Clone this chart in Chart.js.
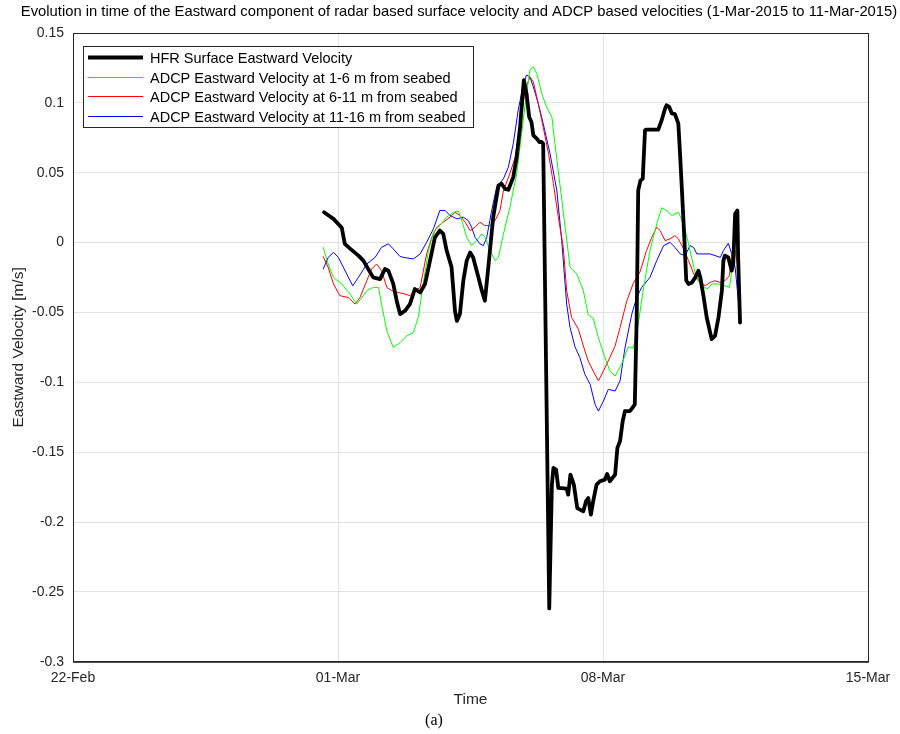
<!DOCTYPE html>
<html>
<head>
<meta charset="utf-8">
<script src="https://cdn.jsdelivr.net/npm/chart.js@4.4.1/dist/chart.umd.min.js"></script>
<style>
  html, body { margin: 0; padding: 0; background: #fff; }
  #wrap { width: 900px; height: 734px; }
</style>
</head>
<body>
<div id="wrap"><canvas id="myChart" width="900" height="734"></canvas></div>
<script>
// time axis: days since 22-Feb-2015 00:00
const tickDays = [0, 7, 14, 21];
const tickLabels = ["22-Feb", "01-Mar", "08-Mar", "15-Mar"];

// HFR surface eastward velocity
const hfrDays = [6.63, 6.88, 7.10, 7.18, 7.32, 7.54, 7.67, 7.85, 7.93, 8.11, 8.24, 8.33, 8.46, 8.55, 8.64, 8.77, 8.90, 9.03, 9.17, 9.30,
  9.43, 9.56, 9.69, 9.78, 9.87, 10.00, 10.09, 10.14, 10.22, 10.31, 10.40, 10.49, 10.57, 10.71, 10.80, 10.88, 10.97, 11.10, 11.24, 11.32,
  11.41, 11.50, 11.63, 11.72, 11.81, 11.88, 11.91, 11.98, 12.05, 12.11, 12.16, 12.25, 12.32, 12.38, 12.42, 12.58, 12.65, 12.69, 12.76, 12.82,
  13.04, 13.08, 13.14, 13.23, 13.32, 13.48, 13.55, 13.61, 13.68, 13.74, 13.83, 13.92, 14.05, 14.11, 14.18, 14.32, 14.38, 14.45, 14.52, 14.58,
  14.71, 14.78, 14.84, 14.89, 14.93, 14.99, 15.05, 15.11, 15.15, 15.46, 15.55, 15.64, 15.68, 15.75, 15.82, 15.90, 15.99, 16.04, 16.13, 16.20,
  16.26, 16.35, 16.44, 16.52, 16.57, 16.66, 16.74, 16.87, 16.96, 17.05, 17.14, 17.18, 17.22, 17.31, 17.40, 17.44, 17.49, 17.55, 17.57, 17.62];
const hfrVel = [0.0217, 0.017, 0.0106, -0.0009, -0.0043, -0.0093, -0.0129, -0.0213, -0.0249, -0.0261, -0.0189, -0.0201, -0.0296, -0.0416, -0.0512, -0.0488, -0.044, -0.0332, -0.0357, -0.0296,
  -0.0129, 0.0038, 0.0086, 0.0062, -0.0057, -0.0177, -0.0488, -0.056, -0.0512, -0.0273, -0.0129, -0.007, -0.0106, -0.0249, -0.0344, -0.0416, -0.0177, 0.0182, 0.0409, 0.0421,
  0.0385, 0.0378, 0.0469, 0.0612, 0.0828, 0.1067, 0.1163, 0.1067, 0.0899, 0.0863, 0.0768, 0.0744, 0.072, 0.072, 0.0708, -0.2618, -0.1732, -0.1613, -0.1624, -0.1756,
  -0.1761, -0.1804, -0.166, -0.1732, -0.19, -0.1923, -0.1852, -0.1828, -0.1947, -0.1852, -0.1732, -0.1708, -0.1696, -0.1656, -0.1708, -0.166, -0.1469, -0.1421, -0.1278, -0.1206,
  -0.1206, -0.1182, -0.1158, -0.0536, 0.0373, 0.0445, 0.0457, 0.0804, 0.0809, 0.0809, 0.0876, 0.096, 0.0983, 0.0971, 0.0924, 0.0919, 0.0852, 0.0612, 0.0134, -0.0273,
  -0.0296, -0.0285, -0.0249, -0.0201, -0.0249, -0.0393, -0.0536, -0.0691, -0.0667, -0.0536, -0.0344, -0.0129, -0.0093, -0.0106, -0.0201, -0.0153, 0.0206, 0.023, -0.0106, -0.0572];

// ADCP 1-6 m from seabed
const adcpLowDays = [6.61, 6.74, 6.88, 7.10, 7.32, 7.49, 7.63, 7.76, 7.93, 8.07, 8.15, 8.29, 8.46, 8.64, 8.82, 8.99, 9.12, 9.25, 9.39, 9.52,
  9.69, 9.87, 10.05, 10.18, 10.27, 10.40, 10.53, 10.66, 10.80, 10.88, 11.02, 11.15, 11.24, 11.37, 11.54, 11.72, 11.85, 11.98, 12.07, 12.16,
  12.25, 12.38, 12.51, 12.65, 12.73, 12.86, 13.00, 13.13, 13.31, 13.48, 13.61, 13.74, 13.88, 14.01, 14.18, 14.32, 14.49, 14.67, 14.80, 14.93,
  15.06, 15.24, 15.42, 15.55, 15.68, 15.82, 15.99, 16.13, 16.26, 16.40, 16.48, 16.62, 16.75, 16.88, 17.05, 17.22, 17.34, 17.38, 17.43, 17.49, 17.58, 17.62];
const adcpLowVel = [-0.0034, -0.0153, -0.0249, -0.0296, -0.0368, -0.044, -0.0393, -0.0344, -0.0321, -0.0321, -0.044, -0.0632, -0.0751, -0.0716, -0.0667, -0.0644, -0.0536, -0.0296, -0.0057, 0.0074,
  0.0122, 0.0182, 0.0217, 0.0225, 0.0158, 0.0038, -0.0022, 0.0014, 0.0062, 0.0038, -0.0057, -0.0129, -0.0106, 0.0062, 0.0253, 0.0493, 0.078, 0.1067, 0.1234, 0.1258,
  0.1211, 0.1067, 0.0971, 0.0899, 0.0708, 0.0421, 0.011, -0.0177, -0.0225, -0.0344, -0.0517, -0.0542, -0.0682, -0.079, -0.0919, -0.0955, -0.0871, -0.0745, -0.0757, -0.0584,
  -0.0344, -0.0057, 0.0134, 0.0249, 0.023, 0.0194, 0.0217, 0.0134, -0.0009, -0.0177, -0.0261, -0.0309, -0.0332, -0.0296, -0.0296, -0.0309, -0.0321, -0.0249, -0.0081, -0.0057, -0.0129, -0.0153];

// ADCP 6-11 m from seabed
const adcpMidDays = [6.61, 6.74, 6.88, 7.05, 7.27, 7.45, 7.58, 7.76, 7.89, 8.02, 8.15, 8.29, 8.42, 8.59, 8.77, 8.90, 9.03, 9.17, 9.34, 9.48,
  9.61, 9.78, 9.96, 10.09, 10.22, 10.36, 10.49, 10.62, 10.75, 10.88, 11.02, 11.15, 11.28, 11.37, 11.54, 11.68, 11.81, 11.94, 12.07, 12.16,
  12.29, 12.42, 12.56, 12.69, 12.82, 12.95, 13.04, 13.17, 13.35, 13.48, 13.61, 13.74, 13.88, 14.01, 14.18, 14.32, 14.45, 14.63, 14.80, 14.98,
  15.15, 15.29, 15.42, 15.51, 15.64, 15.77, 15.90, 15.99, 16.13, 16.26, 16.40, 16.57, 16.70, 16.83, 16.96, 17.10, 17.22, 17.34, 17.43, 17.49, 17.55, 17.62];
const adcpMidVel = [-0.01, -0.0177, -0.0296, -0.038, -0.0393, -0.044, -0.0393, -0.0273, -0.0189, -0.0153, -0.0201, -0.0321, -0.0344, -0.0357, -0.0368, -0.038, -0.0344, -0.0321, -0.0081, 0.0038,
  0.011, 0.0146, 0.0182, 0.0217, 0.0194, 0.0146, 0.0086, 0.011, 0.0146, 0.0122, 0.0122, 0.0158, 0.023, 0.0373, 0.0493, 0.0612, 0.0828, 0.1091, 0.1186, 0.115,
  0.0995, 0.0828, 0.0637, 0.0421, 0.0182, -0.0034, -0.0344, -0.0536, -0.062, -0.0739, -0.0847, -0.0919, -0.099, -0.0919, -0.0823, -0.0739, -0.0608, -0.0416, -0.0291, -0.0208,
  -0.0057, 0.0038, 0.011, 0.0086, 0.0014, 0.0027, 0.005, 0.0027, -0.0045, -0.0129, -0.0225, -0.0285, -0.0309, -0.0285, -0.0273, -0.0285, -0.0273, -0.0237, -0.0034, -0.0057, -0.0153, -0.044];

// ADCP 11-16 m from seabed
const adcpHighDays = [6.61, 6.74, 6.88, 7.01, 7.23, 7.39, 7.54, 7.76, 7.98, 8.15, 8.33, 8.46, 8.64, 8.82, 8.99, 9.17, 9.34, 9.52, 9.69, 9.83,
  9.96, 10.14, 10.31, 10.44, 10.53, 10.62, 10.75, 10.84, 10.93, 11.06, 11.19, 11.37, 11.50, 11.63, 11.76, 11.90, 11.98, 12.07, 12.16, 12.29,
  12.42, 12.60, 12.78, 12.91, 13.04, 13.13, 13.26, 13.39, 13.52, 13.66, 13.79, 13.88, 14.01, 14.14, 14.32, 14.45, 14.58, 14.76, 14.89, 15.02,
  15.24, 15.42, 15.60, 15.77, 15.90, 16.04, 16.17, 16.30, 16.39, 16.48, 16.66, 16.83, 17.10, 17.18, 17.31, 17.40, 17.49, 17.55, 17.62];
const adcpHighVel = [-0.0189, -0.0106, -0.007, -0.0106, -0.0225, -0.0309, -0.0249, -0.0153, -0.0106, -0.0034, -0.0009, -0.0045, -0.01, -0.011, -0.0117, -0.0081, 0.0002, 0.0098, 0.023, 0.023,
  0.0194, 0.017, 0.0182, 0.0158, 0.011, 0.0038, -0.0009, -0.0022, 0.0038, 0.023, 0.0397, 0.0457, 0.054, 0.0708, 0.0947, 0.1139, 0.1199, 0.1186, 0.1115, 0.0995,
  0.0852, 0.0637, 0.0373, 0.0014, -0.044, -0.0608, -0.0746, -0.0823, -0.0942, -0.1014, -0.1158, -0.1206, -0.1134, -0.105, -0.1062, -0.099, -0.0754, -0.0512, -0.0393, -0.0321,
  -0.0249, -0.0129, -0.0022, 0.0002, -0.0034, -0.0081, -0.0093, -0.0022, -0.0034, -0.0081, -0.0081, -0.0081, -0.0106, -0.0057, -0.0005, -0.0081, -0.0177, -0.0344, -0.0536];

const chartTitle = "Evolution in time of the Eastward component of radar based surface velocity and ADCP based velocities (1-Mar-2015 to 11-Mar-2015)";

const toPoints = (xs, ys) => xs.map((x, i) => ({ x: x, y: ys[i] }));
const FONT = "'Liberation Sans', Arial, sans-serif";

const frame = {
  id: "frame",
  afterDatasetsDraw(chart) {
    const { ctx, chartArea: a } = chart;
    ctx.save();
    ctx.strokeStyle = "#262626";
    ctx.lineWidth = 1;
    ctx.strokeRect(a.left + 0.5, a.top + 0.5, a.right - a.left, a.bottom - a.top);
    ctx.restore();
  },
};

// title centred a bit right of the canvas middle, like the MATLAB figure
const topTitle = {
  id: "topTitle",
  afterDraw(chart) {
    const { ctx } = chart;
    ctx.save();
    ctx.font = "14.8px " + FONT;
    ctx.fillStyle = "#000";
    ctx.textAlign = "center";
    ctx.textBaseline = "middle";
    ctx.fillText(chartTitle, 459, 12);
    ctx.restore();
  },
};

// MATLAB-style legend box in the upper left of the axes
const boxLegend = {
  id: "boxLegend",
  afterDraw(chart) {
    const { ctx, chartArea: a } = chart;
    const x0 = a.left + 10, y0 = a.top + 13, w = 390, h = 81;
    ctx.save();
    ctx.fillStyle = "#fff";
    ctx.fillRect(x0, y0, w, h);
    ctx.strokeStyle = "#262626";
    ctx.lineWidth = 1;
    ctx.strokeRect(x0 + 0.5, y0 + 0.5, w, h);
    ctx.font = "14.5px " + FONT;
    ctx.textBaseline = "middle";
    chart.data.datasets.forEach((ds, i) => {
      const y = Math.round(y0 + 11 + i * 19.5) + 0.5;
      ctx.strokeStyle = ds.borderColor;
      ctx.lineWidth = ds.borderWidth;
      ctx.beginPath();
      ctx.moveTo(x0 + 5, y);
      ctx.lineTo(x0 + 60, y);
      ctx.stroke();
      ctx.fillStyle = "#000";
      ctx.fillText(ds.label, x0 + 67, y + 1);
    });
    ctx.restore();
  },
};

const fmt = (v) => {
  const n = Math.round(v * 100) / 100;
  return n === 0 ? "0" : String(n);
};

const ctx = document.getElementById("myChart").getContext("2d");

const config = {
  type: "line",
  data: {
    datasets: [
      { label: "HFR Surface Eastward Velocity", data: toPoints(hfrDays, hfrVel), borderColor: "#000000", borderWidth: 3.8 },
      { label: "ADCP Eastward Velocity at 1-6 m from seabed", data: toPoints(adcpLowDays, adcpLowVel), borderColor: "#00ff00", borderWidth: 1 },
      { label: "ADCP Eastward Velocity at 6-11 m from seabed", data: toPoints(adcpMidDays, adcpMidVel), borderColor: "#ff0000", borderWidth: 1 },
      { label: "ADCP Eastward Velocity at 11-16 m from seabed", data: toPoints(adcpHighDays, adcpHighVel), borderColor: "#0000ff", borderWidth: 1 },
    ],
  },
  options: {
    responsive: false,
    animation: false,
    events: [],
    elements: {
      point: { radius: 0 },
      line: { tension: 0, borderJoinStyle: "round", borderCapStyle: "round" },
    },
    layout: { padding: { left: 0, right: 32, top: 33, bottom: 0 } },
    plugins: {
      legend: { display: false },
      tooltip: { enabled: false },
      title: { display: false },
      subtitle: {
        display: true,
        position: "bottom",
        text: "(a)",
        color: "#000",
        font: { family: "'Liberation Serif', 'Times New Roman', serif", size: 16, weight: "normal" },
        padding: { top: 0, bottom: 4 },
      },
    },
    scales: {
      x: {
        type: "linear",
        min: 0,
        max: 21,
        afterBuildTicks: (s) => { s.ticks = tickDays.map((v) => ({ value: v })); },
        afterFit: (s) => { s.height = 49; },
        ticks: {
          color: "#262626",
          font: { family: FONT, size: 14 },
          padding: 8,
          maxRotation: 0,
          callback: (v) => tickLabels[tickDays.indexOf(v)],
        },
        grid: { color: "#e3e3e3", drawTicks: false },
        border: { color: "#262626" },
        title: {
          display: true,
          text: "Time",
          color: "#262626",
          font: { family: FONT, size: 15.5 },
          padding: { top: 0, bottom: 2 },
        },
      },
      y: {
        min: -0.3,
        max: 0.15,
        afterFit: (s) => { s.width = 73; },
        ticks: {
          stepSize: 0.05,
          color: "#262626",
          font: { family: FONT, size: 14 },
          padding: 9,
          callback: fmt,
        },
        grid: { color: "#e3e3e3", drawTicks: false },
        border: { color: "#262626" },
        title: {
          display: true,
          text: "Eastward Velocity [m/s]",
          color: "#262626",
          font: { family: FONT, size: 15.5 },
          padding: { top: 9, bottom: 0 },
        },
      },
    },
  },
  plugins: [frame, topTitle, boxLegend],
};

const chart = new Chart(ctx, config);
</script>
</body>
</html>
